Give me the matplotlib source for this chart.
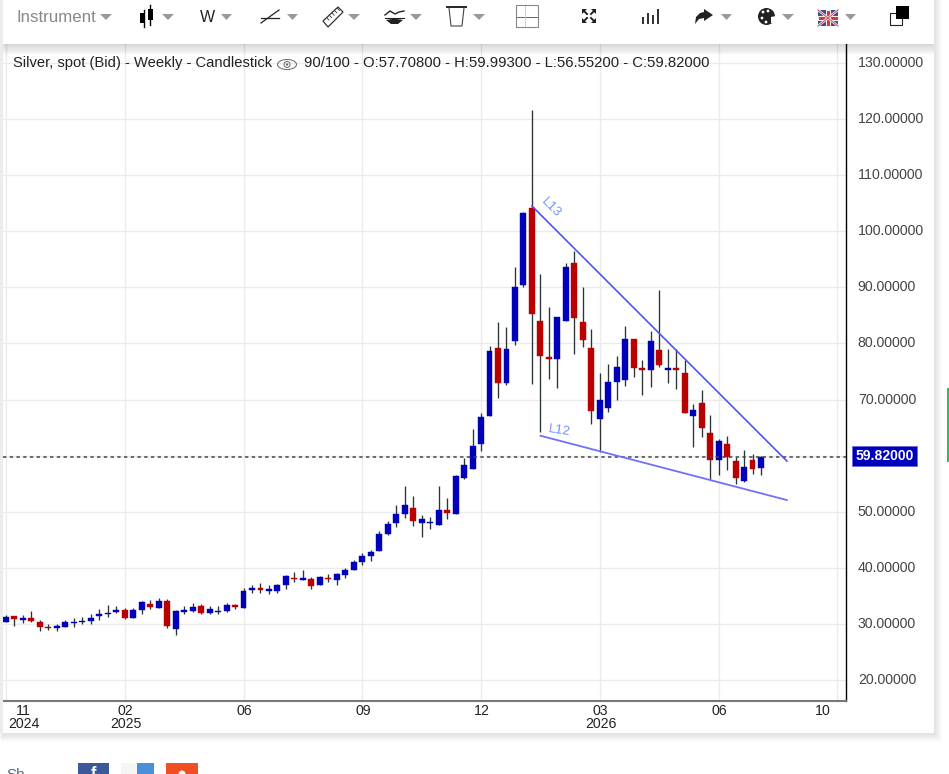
import matplotlib
matplotlib.use("Agg")
import matplotlib.pyplot as plt
from matplotlib.patches import Rectangle, Polygon, Ellipse, Circle
from matplotlib.transforms import ScaledTranslation

plt.rcParams['font.family'] = ['Liberation Sans', 'DejaVu Sans']

# weekly silver candles
opens = [30.4, 31.5, 30.7, 31.05, 30.35, 29.45, 29.3, 29.5, 30.2, 30.35,
         30.5, 31.4, 31.8, 32.1, 32.5, 31.05, 32.5, 33.55, 32.85, 34.1,
         29.1, 32.1, 32.3, 33.2, 32.0, 32.1, 32.36, 33.43, 32.9, 36.05,
         36.35, 35.87, 35.93, 37.0, 38.24, 37.89, 38.0, 37.0, 38.24, 37.89,
         38.78, 39.67, 41.1, 42.17, 43.06, 46.09, 48.05, 49.66, 50.73, 48.05,
         48.05, 47.69, 50.37, 49.66, 55.95, 57.55, 62.07, 67.06, 79.25, 72.89,
         80.5, 90.4, 104.15, 83.94, 77.52, 77.17, 83.94, 94.28, 83.76, 79.13,
         66.47, 68.43, 73.07, 73.48, 80.73, 75.56, 75.2, 78.77, 75.2, 75.56,
         74.67, 67.0, 69.32, 63.97, 59.16, 62.01, 58.98, 55.41, 59.16, 57.708]
highs = [31.6, 31.5, 31.6, 32.3, 30.7, 30.0, 30.05, 30.7, 31.05, 31.2,
         31.8, 32.65, 33.4, 33.2, 32.85, 32.85, 34.1, 34.3, 34.6, 34.45,
         32.5, 33.2, 33.75, 33.55, 33.2, 33.2, 33.8, 33.55, 36.46, 37.0,
         37.35, 37.0, 37.2, 38.66, 39.2, 39.67, 38.42, 38.6, 38.84, 39.14,
         40.03, 41.45, 42.58, 43.24, 46.63, 48.41, 51.26, 54.53, 52.87, 49.48,
         49.12, 54.53, 52.5, 56.6, 59.5, 64.7, 67.54, 79.54, 83.76, 82.87,
         93.57, 103.37, 121.6, 92.38, 86.44, 84.7, 94.28, 96.42, 90.0, 82.5,
         74.67, 76.27, 77.7, 83.05, 80.73, 76.99, 82.16, 89.53, 78.95, 78.95,
         76.99, 69.14, 71.64, 67.18, 62.9, 63.44, 59.7, 60.94, 60.23, 59.993]
lows = [30.3, 29.7, 30.1, 30.35, 28.8, 29.0, 28.8, 29.5, 29.5, 29.9,
        29.9, 30.7, 31.3, 31.9, 30.9, 31.05, 31.8, 32.65, 32.85, 29.3,
        28.0, 31.8, 32.1, 31.8, 31.8, 31.8, 32.1, 32.66, 32.9, 35.57,
        35.57, 35.4, 35.57, 36.28, 37.53, 37.83, 36.28, 36.88, 37.53, 37.0,
        38.24, 39.67, 40.56, 41.28, 43.06, 45.91, 47.34, 48.94, 47.52, 45.56,
        46.98, 47.69, 48.76, 49.66, 55.9, 57.55, 60.88, 67.06, 70.21, 72.59,
        79.66, 90.0, 72.71, 64.15, 73.6, 72.0, 83.94, 78.06, 79.4, 65.58,
        60.7, 67.72, 69.86, 72.35, 73.96, 70.75, 72.17, 75.74, 72.89, 71.82,
        67.54, 61.48, 63.38, 55.65, 56.6, 57.38, 54.88, 55.24, 56.66, 56.552]
closes = [31.2, 30.8, 31.05, 30.5, 29.5, 29.3, 29.7, 30.35, 30.4, 30.5,
          31.05, 31.75, 32.0, 32.5, 31.05, 32.5, 33.9, 33.0, 34.1, 29.65,
          32.35, 32.5, 33.0, 32.0, 32.65, 32.3, 33.43, 33.0, 35.93, 36.35,
          36.05, 36.16, 37.0, 38.48, 38.0, 38.13, 36.82, 38.42, 38.0, 38.96,
          39.67, 41.1, 42.17, 42.88, 46.09, 47.87, 49.66, 51.26, 48.41, 48.76,
          48.23, 50.37, 49.83, 56.43, 58.3, 61.77, 66.94, 78.59, 72.89, 79.07,
          90.0, 103.2, 85.25, 77.7, 77.3, 84.65, 93.57, 84.48, 80.55, 68.0,
          69.86, 73.07, 75.74, 80.73, 75.56, 75.2, 80.37, 76.1, 75.56, 75.2,
          67.66, 68.07, 64.86, 59.16, 62.55, 59.81, 55.95, 58.03, 57.55, 59.82]

last_price = 59.82
y_ticks = [20, 30, 40, 50, 60, 70, 80, 90, 100, 110, 120, 130]
x_ticks = [0, 14, 28, 42, 56, 70, 84, 98]
x_labels = ['11\n2024', '02\n2025', '06', '09', '12', '03\n2026', '06', '10']

# trend lines (week index, price)
l13_x = [62, 92.05]
l13_y = [104.5, 59.04]
l12_x = [63, 92.05]
l12_y = [63.55, 52.08]

BLUE = '#0000bb'
RED = '#bb0000'
WICK = '#2b3535'
GRID = '#ebebeb'
CARET = '#999999'

W, H = 949, 774
fig = plt.figure(figsize=(W / 100, H / 100), dpi=100, facecolor='white')

# page behind the chart, pixel coordinates
bg = fig.add_axes([0, 0, 1, 1], zorder=0)
bg.set_xlim(0, W)
bg.set_ylim(H, 0)
bg.axis('off')
for i in range(10, 0, -1):
    bg.add_patch(Rectangle((3 - i * 0.3, 0), 931 + i * 1.1, 733 + i * 0.9,
                           fc='black', ec='none', alpha=0.012))
bg.add_patch(Rectangle((3, 0), 931, 733, fc='white', ec='none'))

ax = fig.add_axes([3 / W, 1 - 701 / H, 843 / W, 657 / H], zorder=1)
ax.patch.set_alpha(0)
ax.set_xlim(-0.35, 99.02)
ax.set_ylim(130 - (701 - 63) * 0.17828, 130 + (63 - 44) * 0.17828)

ax.set_axisbelow(True)
ax.grid(True, color=GRID, linewidth=1.0)
ax.set_xticks(x_ticks, x_labels)
# the 60 label sits under the price tag in the chart
ax.set_yticks(y_ticks, ['' if v == 60 else '%.5f' % v for v in y_ticks])
ax.yaxis.tick_right()
ax.tick_params(axis='y', length=0, pad=8.5, labelsize=10.2, labelcolor='#444444')
ax.tick_params(axis='x', length=0, pad=2, labelsize=10.2, labelcolor='#222222')
for lab in ax.get_yticklabels():
    lab.set_transform(lab.get_transform() + ScaledTranslation(0, 0.015, fig.dpi_scale_trans))
for lab in ax.get_xticklabels():
    lab.set_linespacing(0.95)
    lab.set_transform(lab.get_transform() + ScaledTranslation(0.008, 0, fig.dpi_scale_trans))
ax.get_xticklabels()[0].set_transform(
    ax.get_xticklabels()[0].get_transform() + ScaledTranslation(0.17, 0, fig.dpi_scale_trans))
ax.get_xticklabels()[-1].set_transform(
    ax.get_xticklabels()[-1].get_transform() + ScaledTranslation(-0.15, 0, fig.dpi_scale_trans))

for side in ['top', 'left']:
    ax.spines[side].set_visible(False)
ax.spines['right'].set_color('black')
ax.spines['right'].set_linewidth(1.0)
ax.spines['bottom'].set_color('#777777')
ax.spines['bottom'].set_linewidth(1.5)

weeks = list(range(len(closes)))
colors = [BLUE if c >= o else RED for o, c in zip(opens, closes)]
ax.vlines(weeks, lows, highs, color=WICK, linewidth=0.95, zorder=3)
ax.bar(weeks, [c - o for o, c in zip(opens, closes)], bottom=opens, width=0.7,
       color=colors, edgecolor=colors, linewidth=0.3, zorder=4)

ax.axhline(last_price, color='#444444', linewidth=1.1, linestyle=(0, (2.2, 2.2)), zorder=5)

ax.plot(l13_x, l13_y, color='#5050ff', linewidth=1.2, zorder=6)
ax.plot(l12_x, l12_y, color='#7070ff', linewidth=1.3, zorder=6)
ax.text(64.2, 104.2, 'L13', color='#6f94ff', fontsize=9.5, rotation=-45,
        ha='center', va='center', zorder=6)
ax.text(65.2, 64.5, 'L12', color='#6f94ff', fontsize=9.5, rotation=-9,
        ha='center', va='center', zorder=6)

# toolbar, header text and page bits, pixel coordinates
ui = fig.add_axes([0, 0, 1, 1], zorder=2)
ui.set_xlim(0, W)
ui.set_ylim(H, 0)
ui.axis('off')
ui.patch.set_alpha(0)

for i in range(10, 0, -1):
    ui.add_patch(Rectangle((3, 44), 931, i * 1.1, fc='black', ec='none', alpha=0.014))
ui.add_patch(Rectangle((3, 0), 931, 44, fc='white', ec='none'))
ui.add_patch(Rectangle((0, 0), 3, 733, fc='#ececec', ec='none'))


def caret(x0, x1):
    ui.add_patch(Polygon([(x0, 14), (x1, 14), ((x0 + x1) / 2, 20)], fc=CARET, ec='none'))


for x0, x1 in [(100, 112), (162, 174), (221, 232), (287, 298), (348, 360), (410, 422),
               (473, 485), (721, 732), (782, 794), (845, 856)]:
    caret(x0, x1)

ui.text(16, 18, 'Instrument', color='#888888', fontsize=12.2, ha='left', va='center')
ui.text(207.5, 18, 'W', color='#222222', fontsize=11.5, ha='center', va='center')

# candle icon
ui.plot([144, 144], [10, 27], color='black', lw=1)
ui.plot([150, 150], [5, 25], color='black', lw=1)
ui.add_patch(Rectangle((140, 13), 5, 10, fc='black', ec='none'))
ui.add_patch(Rectangle((148, 9), 5, 11, fc='black', ec='none'))
# line icon
ui.plot([261, 279], [23, 10], color='#222222', lw=0.9)
ui.plot([261, 279], [18, 18], color='#222222', lw=0.9)
# ruler icon
ui.add_patch(Polygon([(323, 21), (338, 7), (343, 12), (328, 27)], fc='white', ec='#333333', lw=0.9))
for k in range(5):
    ui.plot([327 + k * 2.6, 329 + k * 2.6], [18 - k * 2.4, 20 - k * 2.4], color='#333333', lw=0.6)
# wave icon
ui.plot([385, 390, 395, 399, 404], [15, 11, 14, 12, 11], color='#222222', lw=1)
ui.plot([385, 404], [18, 18], color='#222222', lw=0.8)
ui.add_patch(Polygon([(386, 20), (392, 19), (397, 19), (403, 20), (398, 24), (391, 24)], fc='#222222', ec='none'))
# trash icon
ui.plot([447, 466], [7, 7], color='#222222', lw=1.4)
ui.plot([449, 451, 462, 464], [8, 26, 26, 8], color='#444444', lw=0.8)
# crosshair icon
ui.add_patch(Rectangle((516, 5), 22, 22, fc='white', ec='#888888', lw=0.8))
ui.plot([517, 537], [17, 17], color='#666666', lw=0.7)
ui.plot([525, 525], [6, 26], color='#cccccc', lw=0.7)
# fullscreen icon
for cx, cy, sx, sy in [(582, 9, 1, 1), (596, 9, -1, 1), (582, 23, 1, -1), (596, 23, -1, -1)]:
    ui.add_patch(Polygon([(cx, cy), (cx + 5 * sx, cy), (cx, cy + 5 * sy)], fc='#222222', ec='none'))
    ui.plot([cx + 2 * sx, cx + 5 * sx], [cy + 2 * sy, cy + 5 * sy], color='#222222', lw=1.4)
# bars icon
for bx, by in [(643, 17), (648, 13), (653, 15), (658, 9)]:
    ui.add_patch(Rectangle((bx - 1, by), 2.4, 24 - by, fc='#333333', ec='none'))
# share arrow
ui.add_patch(Polygon([(704, 9), (713, 15), (704, 21), (704, 18), (699, 19), (695, 24), (696, 17),
                      (700, 13), (704, 12)], fc='#222222', ec='none'))
# palette
ui.add_patch(Ellipse((766.5, 16.5), 17, 17, fc='#222222', ec='none'))
for px, py in [(763, 12), (768, 11), (762, 18), (766, 22)]:
    ui.add_patch(Circle((px, py), 1.4, fc='white', ec='none'))
ui.add_patch(Polygon([(771, 17), (776, 16), (776, 22), (771, 23)], fc='white', ec='none'))
# flag
ui.add_patch(Rectangle((818, 10), 20, 16, fc='#3b4a8c', ec='none'))
ui.plot([818, 838], [10, 26], color='#eeeeee', lw=1.8)
ui.plot([818, 838], [26, 10], color='#eeeeee', lw=1.8)
ui.plot([818, 838], [10, 26], color='#cc3344', lw=0.6)
ui.plot([818, 838], [26, 10], color='#cc3344', lw=0.6)
ui.add_patch(Rectangle((818, 16), 20, 4, fc='#cc3344', ec='#eeeeee', lw=0.8))
ui.add_patch(Rectangle((826, 10), 4, 16, fc='#cc3344', ec='#eeeeee', lw=0.8))
# windows icon
ui.add_patch(Rectangle((890, 13), 12, 12, fc='white', ec='#222222', lw=0.8))
ui.add_patch(Rectangle((896, 6), 13, 13, fc='black', ec='none'))

# header
ui.text(13, 63, 'Silver, spot (Bid) - Weekly - Candlestick', color='#222222', fontsize=10.65,
        ha='left', va='center')
ui.add_patch(Ellipse((287, 64.5), 19, 10, fc='none', ec='#666666', lw=0.7))
ui.add_patch(Circle((287, 64.5), 3, fc='none', ec='#666666', lw=0.7))
ui.add_patch(Circle((287, 64.5), 1.2, fc='#666666', ec='none'))
ui.text(304, 63, '90/100 - O:57.70800 - H:59.99300 - L:56.55200 - C:59.82000', color='#222222',
        fontsize=10.7, ha='left', va='center')

# price tag
ui.add_patch(Rectangle((852, 446), 65, 20, fc='#0000bb', ec='#6666dd', lw=0.5))
ui.text(884.5, 456.5, '%.5f' % last_price, color='white', fontsize=10.1, fontweight='bold',
        ha='center', va='center')

# footer and the edge of the next panel
ui.text(6, 775, 'Sh', color='#5a6a7a', fontsize=11, ha='left', va='center', clip_on=True)
ui.add_patch(Rectangle((78, 763), 31, 11, fc='#3b5998', ec='none'))
ui.text(91, 773, 'f', color='white', fontsize=12, fontweight='bold', ha='left', va='center', clip_on=True)
ui.add_patch(Rectangle((121, 763), 16, 11, fc='#f5f5f5', ec='none'))
ui.add_patch(Rectangle((137, 763), 17, 11, fc='#4a90d9', ec='none'))
ui.add_patch(Rectangle((166, 763), 32, 11, fc='#f04e23', ec='none'))
ui.add_patch(Circle((182, 774), 3.5, fc='white', ec='none'))
ui.add_patch(Rectangle((947.5, 388), 1.5, 74, fc='#33bb55', ec='none'))

fig.savefig('out.png', dpi=100)
